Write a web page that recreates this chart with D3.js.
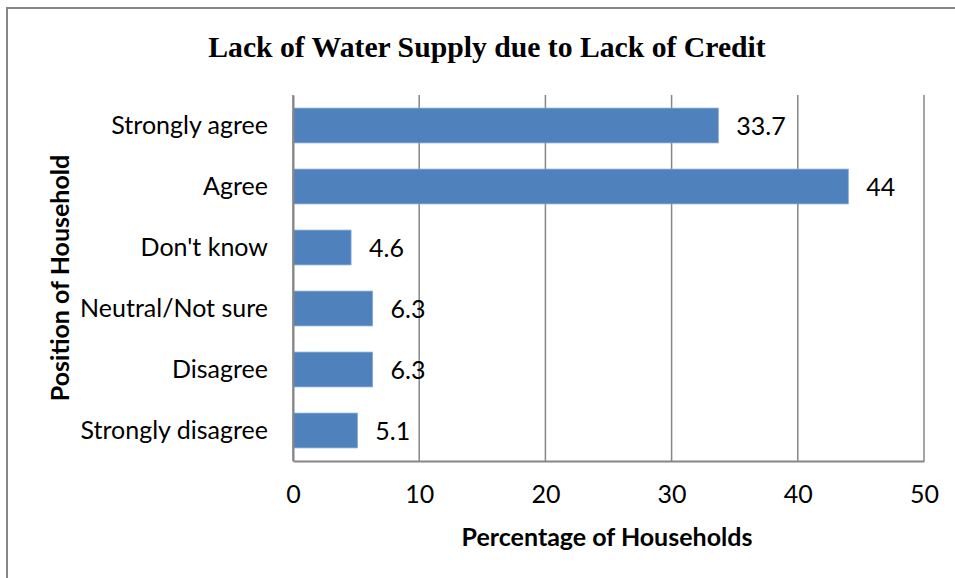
<!DOCTYPE html>
<html><head><meta charset="utf-8">
<script src="https://cdn.jsdelivr.net/npm/d3@7"></script>
<style>
html,body{margin:0;padding:0;background:#fff;}
svg{display:block;}
</style></head>
<body>
<svg id="chart" width="955" height="578"></svg>
<script>
const title = "Lack of Water Supply due to Lack of Credit";
const categories = ["Strongly agree","Agree","Don't know","Neutral/Not sure","Disagree","Strongly disagree"];
const values = [33.7, 44, 4.6, 6.3, 6.3, 5.1];
const valueLabels = ["33.7","44","4.6","6.3","6.3","5.1"];
const xTicks = [0,10,20,30,40,50];
const xTitle = "Percentage of Households";
const yTitle = "Position of Household";

const svg = d3.select("#chart");
const W = 955, H = 578;
const m = {left:293, right:31, top:95, bottom:117};
const pw = W - m.left - m.right, ph = H - m.top - m.bottom;
const sans = "Lato, 'Open Sans', sans-serif";
const fs = 25;

// outer chart border
svg.append("rect").attr("x",7).attr("y",8).attr("width",W).attr("height",H)
  .attr("fill","#fff").attr("stroke","#868686").attr("stroke-width",2);

svg.append("text").attr("x",487).attr("y",57).attr("text-anchor","middle")
  .attr("font-family","'Liberation Serif','Times New Roman',serif").attr("font-weight","bold")
  .attr("font-size",29.7).attr("fill","#000").text(title);

const x = d3.scaleLinear().domain([0,50]).range([0,pw]);
const y = d3.scaleBand().domain(categories).range([0,ph]).paddingInner(0.43).paddingOuter(0.215);

const g = svg.append("g").attr("transform",`translate(${m.left},${m.top})`);

// gridlines
g.append("g").selectAll("line").data(xTicks).join("line")
  .attr("x1",d=>x(d)).attr("x2",d=>x(d)).attr("y1",0).attr("y2",ph)
  .attr("stroke","#868686").attr("stroke-width",1.5);

// bars
g.append("g").selectAll("rect").data(values).join("rect")
  .attr("x",0).attr("y",(d,i)=>y(categories[i]))
  .attr("width",d=>x(d)).attr("height",y.bandwidth())
  .attr("fill","#4F81BD").attr("stroke","#7FA3D2").attr("stroke-width",0.8);

// x axis
const xAxis = g.append("g").attr("transform",`translate(0,${ph})`)
  .call(d3.axisBottom(x).tickValues(xTicks).tickSize(0).tickPadding(24).tickFormat(d3.format("d")));
xAxis.select(".domain").attr("stroke","#868686").attr("stroke-width",2);
xAxis.selectAll("text").attr("font-family",sans).attr("font-size",fs).attr("fill","#000");

// y axis
const yAxis = g.append("g")
  .call(d3.axisLeft(y).tickSize(0).tickPadding(25));
yAxis.select(".domain").attr("stroke","#868686").attr("stroke-width",2);
yAxis.selectAll("text").attr("font-family",sans).attr("font-size",fs).attr("fill","#000");

// value labels
g.append("g").selectAll("text").data(values).join("text")
  .attr("x",d=>x(d)+18).attr("y",(d,i)=>y(categories[i])+y.bandwidth()/2)
  .attr("dy","0.36em").attr("font-family",sans).attr("font-size",fs).attr("fill","#000")
  .text((d,i)=>valueLabels[i]);

// axis titles
svg.append("text").attr("x",607).attr("y",546).attr("text-anchor","middle")
  .attr("font-family",sans).attr("font-weight","bold").attr("font-size",fs).attr("fill","#000").text(xTitle);
svg.append("text").attr("transform","translate(69,278) rotate(-90)").attr("text-anchor","middle")
  .attr("font-family",sans).attr("font-weight","bold").attr("font-size",fs).attr("fill","#000").text(yTitle);
</script>
</body></html>
